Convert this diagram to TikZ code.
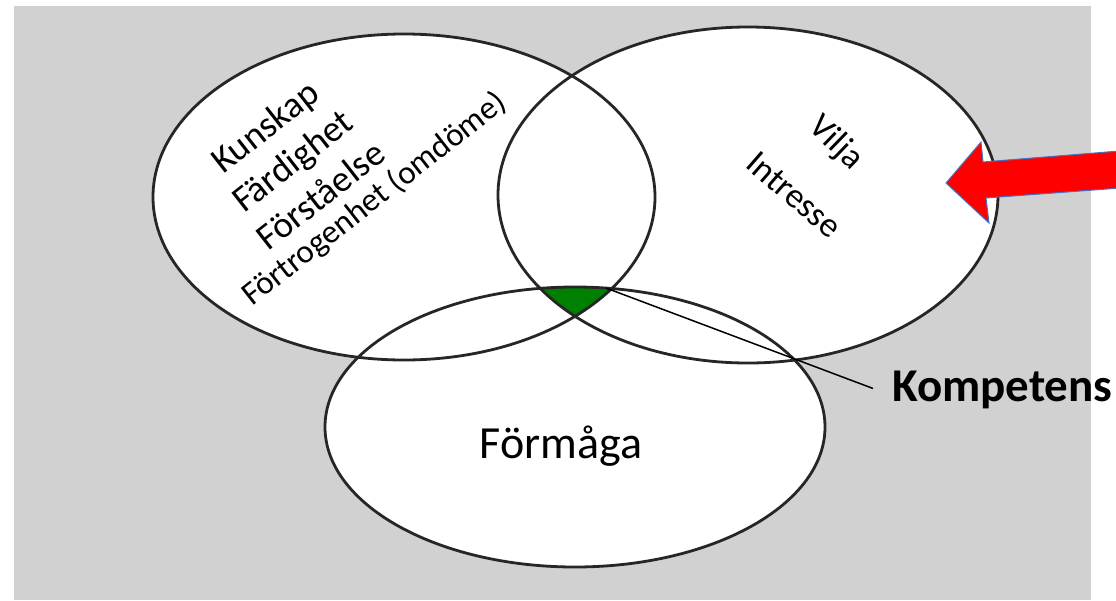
\documentclass[tikz,border=0pt]{standalone}
\usepackage{fontspec}
\setmainfont{Carlito}
\definecolor{bggray}{RGB}{209,209,209}
\definecolor{vgreen}{RGB}{0,128,0}
\definecolor{arrowblue}{RGB}{68,114,196}
\tikzset{
  circ/.style={draw=black!85, line width=2.8pt},
  rottext/.style={inner sep=0pt, font=\fontsize{37}{44}\selectfont},
  rotsmall/.style={inner sep=0pt, font=\fontsize{33}{40}\selectfont},
  vtext/.style={inner sep=0pt, font=\fontsize{35}{42}\selectfont},
  bigtext/.style={inner sep=0pt, font=\fontsize{46}{54}\selectfont},
  kompt/.style={inner sep=0pt, font=\fontsize{47}{56}\selectfont\bfseries},
  redarrow/.style={fill=red, draw=arrowblue, line width=1pt, line join=miter}
}
\begin{document}
\begin{tikzpicture}[x=1pt,y=-1pt]
\useasboundingbox (0,0) rectangle (1116,600);
\fill[bggray] (14,6) rectangle (1091,600);
% white fills
\fill[white] (404,197) ellipse [x radius=251pt, y radius=163pt];
\fill[white] (748,195) ellipse [x radius=250pt, y radius=168pt];
\fill[white] (575,427) ellipse [x radius=250pt, y radius=140pt];
% green intersection
\begin{scope}
  \clip (404,197) ellipse [x radius=251pt, y radius=163pt];
  \clip (748,195) ellipse [x radius=250pt, y radius=168pt];
  \fill[vgreen] (575,427) ellipse [x radius=250pt, y radius=140pt];
\end{scope}
% outlines
\draw[circ] (404,197) ellipse [x radius=251pt, y radius=163pt];
\draw[circ] (748,195) ellipse [x radius=250pt, y radius=168pt];
\draw[circ] (575,427) ellipse [x radius=250pt, y radius=140pt];
% texts
\node[rottext, rotate=38, anchor=base west] (kun) at (223,175) {Kunskap};
\node[rottext, rotate=38, anchor=base west] (far) at (244,214) {Färdighet};
\node[rottext, rotate=38, anchor=base west] (fst) at (268,252) {Förståelse};
\node[rotsmall, rotate=38, anchor=base west] (ftr) at (252,307) {Förtrogenhet (omdöme)};
\node[vtext, rotate=-44] (vil) at (836,143) {Vilja};
\node[vtext, rotate=-41] (int) at (794,195) {Intresse};
\node[bigtext, anchor=base] (form) at (561,458) {Förmåga};
\node[kompt, anchor=base west] (komp) at (892,401) {Kompetens};
% connector
\coordinate (kp) at (606,288);
\draw[line width=1.5pt] (kp) -- ([xshift=-19pt,yshift=1pt]komp.west);
% red arrow
\begin{scope}
  \clip (0,0) rectangle (1116,600);
  \filldraw[redarrow] (946,183) -- (981,142) -- (983,162) -- (1132,150) -- (1134,187) -- (986,198) -- (989,223) -- cycle;
\end{scope}
\end{tikzpicture}
\end{document}
